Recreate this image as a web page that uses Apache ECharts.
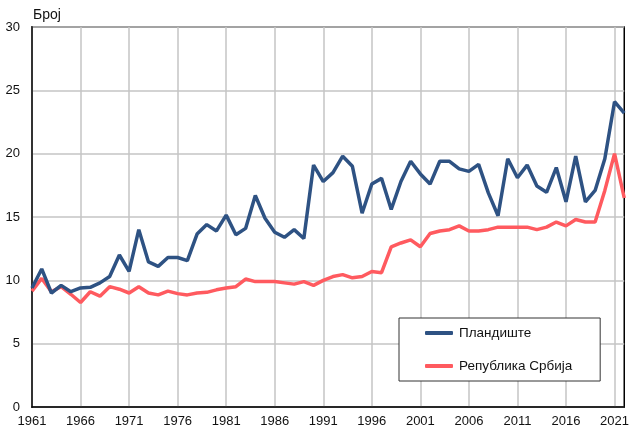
<!DOCTYPE html>
<html><head><meta charset="utf-8">
<script src="https://cdn.jsdelivr.net/npm/echarts@6/dist/echarts.min.js"></script>
<style>html,body{margin:0;padding:0;background:#fff}#c{width:632px;height:430px}</style>
</head><body><div id="c"></div>
<script>
var years = [];
for (var y = 1961; y <= 2022; y++) years.push(String(y));
var plandiste = [9.4,10.9,9.0,9.6,9.1,9.4,9.45,9.8,10.3,12.0,10.7,14.0,11.45,11.1,11.8,11.8,11.55,13.65,14.4,13.9,15.15,13.6,14.1,16.7,14.9,13.8,13.4,14.0,13.3,19.1,17.8,18.5,19.8,19.0,15.3,17.6,18.05,15.6,17.8,19.4,18.4,17.6,19.4,19.4,18.8,18.6,19.15,16.9,15.1,19.6,18.1,19.1,17.45,16.95,18.9,16.2,19.8,16.2,17.1,19.6,24.1,23.2];
var srbija = [9.15,10.15,9.1,9.5,8.9,8.25,9.1,8.75,9.5,9.3,9.0,9.5,9.0,8.85,9.15,8.95,8.85,9.0,9.05,9.25,9.4,9.5,10.1,9.9,9.9,9.9,9.8,9.7,9.9,9.6,10.0,10.3,10.45,10.2,10.3,10.7,10.6,12.65,12.95,13.2,12.65,13.7,13.9,14.0,14.3,13.9,13.9,14.0,14.2,14.2,14.2,14.2,14.0,14.2,14.6,14.3,14.8,14.6,14.6,17.1,20.0,16.5];
var seriesNames = ['Пландиште','Република Србија'];
var colors = ['#2E5283','#FF5A5F'];
var chart = echarts.init(document.getElementById('c'), null, {renderer:'canvas'});
var font = 'Liberation Sans, Arial, sans-serif';
chart.setOption({
  animation:false,
  grid:{left:32,right:3,top:27,bottom:23,show:true,borderColor:'#000',borderWidth:1.5,backgroundColor:'transparent'},
  graphic:[{type:'text',left:33,top:8,style:{text:'Број',font:'14px '+font,fill:'#111'}}],
  legend:{
    orient:'vertical',left:399,top:318,padding:[8,28,8,26],itemGap:19,
    borderColor:'#333',borderWidth:1,backgroundColor:'#fff',
    itemWidth:28,itemHeight:4,
    textStyle:{fontSize:13.5,fontFamily:font,color:'#111',padding:[0,0,0,1]},
    data:[{name:seriesNames[0],icon:'roundRect'},{name:seriesNames[1],icon:'roundRect'}]
  },
  xAxis:{type:'category',data:years,boundaryGap:false,
    axisLine:{show:true,lineStyle:{color:'#000',width:1.5}},
    axisTick:{show:false},
    axisLabel:{interval:4,color:'#111',fontSize:13,fontFamily:font,margin:8},
    splitLine:{show:true,interval:4,lineStyle:{color:'#c4c4c4',width:1.5}}
  },
  yAxis:{type:'value',min:0,max:30,interval:5,
    axisLine:{show:true,lineStyle:{color:'#333',width:2}},
    axisTick:{show:false},
    axisLabel:{color:'#111',fontSize:13,fontFamily:font,margin:12},
    splitLine:{show:true,lineStyle:{color:'#c4c4c4',width:1.5}}
  },
  series:[
    {name:seriesNames[0],type:'line',data:plandiste,symbol:'none',lineStyle:{color:colors[0],width:3.5},itemStyle:{color:colors[0]},z:3},
    {name:seriesNames[1],type:'line',data:srbija,symbol:'none',lineStyle:{color:colors[1],width:3.5},itemStyle:{color:colors[1]},z:2}
  ]
});
</script></body></html>
